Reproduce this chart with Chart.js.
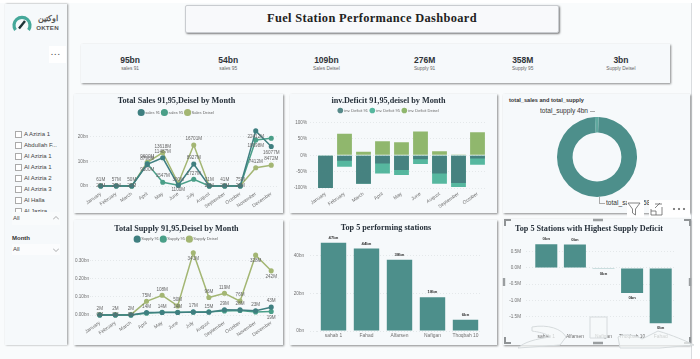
<!DOCTYPE html>
<html lang="en">
<head>
<meta charset="UTF-8">
<title>Fuel Station Performance Dashboard</title>
<script src="https://cdn.jsdelivr.net/npm/chart.js"></script>
<style>
    html, body { margin: 0; padding: 0; background: #fff; }
    body { width: 700px; height: 359px; overflow: hidden; position: relative; font-family: "Liberation Sans", Arial, sans-serif; color: #333; }
    .abs { position: absolute; }
    #page { left: 0; top: 3px; width: 691px; height: 356px; background: #f9fbfc; border-right: 1px solid #d9dcdf; }
    .panel { position: absolute; background: #f6f9fb; box-shadow: 1px 1px 2px rgba(0,0,0,.45); }
    .panel canvas { display: block; }
    #sidebar { left: 5px; top: 4px; width: 62px; height: 341px; background: #f6f9fb; box-shadow: 1px 0 2px rgba(0,0,0,.4); }
    #title { left: 185px; top: 5px; width: 372px; height: 26px; line-height: 25px; text-align: center; border-radius: 2px;
        background: #f8f9fb; border: 1px solid #c9ccd0; box-shadow: 1px 1px 2px rgba(0,0,0,.5);
        font: bold 12.4px/25px "Liberation Serif", serif; letter-spacing: .35px; color: #222; box-sizing: content-box; }
    #kpis { left: 81px; top: 44px; width: 589px; height: 39px; background: #f6f9fb; box-shadow: 1px 1px 2px rgba(0,0,0,.45); display: flex; }
    .kpi { flex: 1; text-align: center; padding-top: 11px; }
    .kpi b { display: block; font-size: 8.5px; line-height: 10px; color: #2e3338; }
    .kpi span { display: block; font-size: 4.8px; line-height: 7px; color: #666; }
    .slicer { left: 24px; font-size: 6px; line-height: 8px; color: #444; white-space: nowrap; }
    .box { left: 15px; width: 5px; height: 5px; border: 1px solid #aaa; background: #fff; }
    .small { font-size: 6.6px; line-height: 9px; color: #333; white-space: nowrap; opacity: .98; }
    .tool { background: #fff; }
</style>
</head>
<body>
<div id="page" class="abs"></div>
<div id="sidebar" class="abs"></div>

<!-- logo -->
<svg class="abs" style="left:12px;top:15px" width="20" height="18" viewBox="0 0 20 18">
    <path d="M3.5 15 A8 8 0 1 1 16.5 15" fill="none" stroke="#45a89a" stroke-width="3.2"/>
    <path d="M7 13.5 L13 6" stroke="#1d3438" stroke-width="2.4"/>
</svg>
<div class="abs" style="left:32px;top:13px;width:31px;text-align:center;font:bold 8px/10px 'Noto Sans',sans-serif;color:#555" dir="rtl" lang="ar">اوكتين</div>
<div class="abs" style="left:32px;top:24px;width:31px;text-align:center;font:bold 6.2px/7px 'Liberation Sans',sans-serif;letter-spacing:.2px;color:#555">OKTEN</div>
<div class="abs" style="left:49px;top:46px;width:17px;height:17px;background:#fff"></div>
<div class="abs" style="left:51px;top:49px;font:bold 7px/8px 'Liberation Sans';letter-spacing:1.4px;color:#555">...</div>

<div id="stations"></div>
<div class="abs" style="left:12px;top:212px;width:48px;height:13px;background:#f9fbfc"></div>
<div class="abs slicer" style="left:13px;top:214px">All</div>
<svg class="abs" style="left:53px;top:216px" width="6" height="4"><path d="M0 3.5 L3 .5 L6 3.5" fill="none" stroke="#888" stroke-width=".7"/></svg>
<div class="abs slicer" style="left:12px;top:234px;font-weight:bold;color:#333">Month</div>
<div class="abs" style="left:12px;top:244px;width:48px;height:11px;background:#fbfcfd"></div>
<div class="abs slicer" style="left:13px;top:245px">All</div>
<svg class="abs" style="left:53px;top:248px" width="6" height="4"><path d="M0 .5 L3 3.5 L6 .5" fill="none" stroke="#888" stroke-width=".7"/></svg>

<div id="title" class="abs">Fuel Station Performance Dashboard</div>
<div id="kpis" class="abs"></div>

<div class="panel" style="left:74px;top:94px;width:209px;height:119px"><canvas id="salesChart" width="209" height="119"></canvas></div>
<div class="panel" style="left:290px;top:94px;width:207px;height:119px"><canvas id="invChart" width="207" height="119"></canvas></div>
<div class="panel" style="left:503px;top:94px;width:187px;height:119px">
    <div class="abs" style="left:6px;top:2px;font:bold 5.6px/8px 'Liberation Sans';color:#333">total_sales and total_supply</div>
    <canvas id="donutChart" width="80" height="80" style="position:absolute;left:54px;top:23px"></canvas>
    <div class="abs small" style="left:37px;top:12px" id="supplyLabel"></div>
    <div class="abs" style="left:87px;top:17px;width:5px;height:1px;background:#aaa"></div>
    <div class="abs" style="left:96px;top:103px;width:1px;height:6px;background:#aaa"></div>
    <div class="abs" style="left:96px;top:109px;width:6px;height:1px;background:#aaa"></div>
    <div class="abs small" style="left:103px;top:104px" id="salesLabel"></div>
</div>
<div class="panel" style="left:74px;top:220px;width:209px;height:125px"><canvas id="supplyChart" width="209" height="125"></canvas></div>
<div class="panel" style="left:290px;top:220px;width:207px;height:125px"><canvas id="topChart" width="207" height="125"></canvas></div>
<div class="panel" style="left:503px;top:219px;width:187px;height:126px"><canvas id="deficitChart" width="187" height="126"></canvas></div>

<!-- visual header of the donut panel -->
<div class="abs tool" style="left:627px;top:200px;width:17px;height:17px"></div>
<div class="abs tool" style="left:649px;top:200px;width:41px;height:17px"></div>
<svg class="abs" style="left:627px;top:202px" width="64" height="15" viewBox="0 0 64 15" fill="none" stroke="#666" stroke-width=".8">
    <path d="M1 1 H13 L8.5 7 V13 L5.5 11 V7 Z"/>
    <path d="M24 7 V13 H35 V5 M28 2 H35 M33 1 L28 6 M24 9 H29 V13"/>
    <circle cx="47" cy="7" r=".7" fill="#555"/><circle cx="52" cy="7" r=".7" fill="#555"/><circle cx="57" cy="7" r=".7" fill="#555"/>
</svg>

<!-- selection frame and the watermark over the last panel -->
<svg class="abs" style="left:500px;top:215px" width="200" height="144" viewBox="0 0 200 144" fill="none">
    <path d="M5 11 V5 H11 M184 5 H190 V11 M5 122 V128 H11 M184 128 H190 V122" stroke="#8f9395" stroke-width="2"/>
    <path d="M93 5 H103 M93 128 H103 M4 63 V71 M190 63 V71" stroke="#9a9ea0" stroke-width="2.4"/>
    <g stroke="#d5dadc" stroke-width="1" fill="#f7f9fa" fill-opacity=".7">
        <path d="M90 102 H107 V123 H90 Z"/>
        <path d="M32 112 C48 109 62 114 66 122 L60 130 L18 133 C24 127 36 124 50 122 C46 118 38 117 32 116 Z"/>
        <path d="M118 122 C124 118 136 120 142 124 L158 116 C172 120 186 126 194 130 L160 133 L120 133 Z"/>
    </g>
</svg>

<script>
    const months = ["January", "February", "March", "April", "May", "June", "July", "August", "September", "October", "November", "December"];
    const sales91 = [20, 20, 20, 8790, 11487, 300, 8927, 20, 26, 26, 22412, 16077];
    const sales95 = [25, 25, 25, 9100, 1547, 330, 2727, 20, 26, 26, 18698, 19400];
    const salesDiesel = [61, 57, 50, 9600, 13618, 1100, 16701, 31, 41, 75, 7412, 8472];
    const salesTicks = [0, 10000, 20000];

    const supply91 = [0.4, 0.4, 0.4, 14, 14, 14, 17, 15, 29, 28, 23, 43];
    const supply95 = [0.4, 0.4, 0.4, 10, 15, 15, 15, 18, 22, 25, 17, 19];
    const supplyDiesel = [2, 2, 2, 75, 108, 50, 341, 96, 119, 76, 328, 242];
    const supplyTicks = [0, 100, 200, 300];

    const invMonths = ["January", "February", "March", "April", "May", "June", "August", "September", "October"];
    const inv91 = [-100, -17, -87, -25, -45, -12, -56, -85, -10];
    const inv95 = [-100, -35, -87, -56, -60, -27, -87, -97, -29];
    const invDiesel = [0, 66, 11, 43, 40, 73, 12, 2, 70];
    const invTicks = [-100, -50, 0, 50, 100];

    const topStations = ["sahab 1", "Fahad", "Alfarsen", "Nafigan", "Thoqbah 10"];
    const topValues = [47, 44, 38, 18, 6];
    const topTicks = [0, 20, 40];

    const deficitStations = ["sahab 1", "Alfarsen", "Nafigan", "Thoqbah 10", "Fahad"];
    const deficitValues = [0.73, 0.72, -0.03, -0.77, -1.7];
    const deficitTicks = [-1.5, -1, -0.5, 0, 0.5];

    const totalNames = ["total_supply", "total_sales"];
    const totalValues = [4, 258];

    const kpiValues = ["95bn", "54bn", "109bn", "276M", "358M", "3bn"];
    const kpiNames = ["sales 91", "sales 95", "Sales Deisel", "Supply 91", "Supply 95", "Supply Deisel"];
    const stationNames = ["A Azizia 1", "Abdullah F...", "Al Azizia 1", "Al Azizia 1", "Al Azizia 2", "Al Azizia 3", "Al Halla", "Al Jazira"];

    const teal = "#4d8f8b", green = "#4a9f88", olive = "#a3b673";
    const tickColor = "#707070", gridColor = "#e4e8ea";

    document.getElementById("kpis").innerHTML = kpiValues.map((v, i) =>
        `<div class="kpi"><b>${v}</b><span>${kpiNames[i]}</span></div>`).join("");
    document.getElementById("stations").innerHTML = stationNames.map((s, i) => {
        const y = 134 + i * 11;
        return `<div class="abs box" style="top:${y - 3}px"></div><div class="abs slicer" style="top:${y - 4}px">${s}</div>`;
    }).join("");
    document.getElementById("supplyLabel").textContent = `${totalNames[0]} ${totalValues[0]}bn`;
    document.getElementById("salesLabel").textContent = `${totalNames[1]} ${totalValues[1]}bn`;

    // label settings per chart, outside chart options because Chart.js would call the format functions as scriptable
    const lineLabelFont = "4.6px 'Liberation Sans'";
    const labelSetup = {
        salesChart: { font: lineLabelFont, color: "#666", gap: 6, format: v => Math.round(v) + "M",
            rules: [{ at: [0, 1, 2, 7, 8, 9], below: [10, 11] },
                { below: [3, 10], hide: [0, 1, 2, 5, 7, 8, 9, 11] },
                { below: [5] }] },
        supplyChart: { font: lineLabelFont, color: "#666", gap: 6, format: v => Math.round(v) + "M",
            rules: [{ at: [0, 1, 2] },
                { below: [11], hide: [0, 1, 2, 3, 4, 5, 6, 7, 8, 9, 10] },
                { below: [6, 10, 11] }] },
        topChart: { font: "bold 4.2px 'Liberation Sans'", color: "#333", gap: 5, format: v => v + "bn" },
        deficitChart: { font: "bold 4.2px 'Liberation Sans'", color: "#333", gap: 5, outside: true, format: v => "0bn" }
    };

    // no datalabels plugin here, so draw the value labels through the chart's own elements
    const valueLabels = {
        id: "valueLabels",
        afterDatasetsDraw(chart) {
            const o = labelSetup[chart.canvas.id];
            if (!o) return;
            const ctx = chart.ctx;
            ctx.save();
            ctx.font = o.font;
            ctx.fillStyle = o.color;
            ctx.textAlign = "center";
            ctx.textBaseline = "middle";
            chart.data.datasets.forEach((ds, d) => {
                const rule = (o.rules && o.rules[d]) || {};
                chart.getDatasetMeta(d).data.forEach((el, i) => {
                    if (rule.hide && rule.hide.includes(i)) return;
                    let below = rule.below && rule.below.includes(i);
                    if (o.outside) below = ds.data[i] < 0;
                    let dy = below ? o.gap : -o.gap;
                    if (rule.at && rule.at.includes(i)) dy = 0;
                    ctx.fillText(o.format(ds.data[i]), el.x, el.y + dy);
                });
            });
            ctx.restore();
        }
    };
    Chart.register(valueLabels);

    function titleOpts(text, size, pad) {
        return { display: true, text: text, color: "#26303a", font: { family: "'Liberation Serif', serif", size: size, weight: "bold" }, padding: pad };
    }
    function legendOpts() {
        return { display: true, position: "top", labels: { font: { size: 4 }, color: "#666", boxWidth: 4, boxHeight: 4, padding: 2.3, usePointStyle: true, pointStyle: "circle" } };
    }
    function yAxis(width, ticks, fmt, min, max, tickLen, pad) {
        return {
            min: min, max: max,
            afterFit(s) { s.width = width; },
            afterBuildTicks(s) { s.ticks = ticks.map(v => ({ value: v })); },
            border: { display: false, dash: [1, 2] },
            grid: { color: gridColor, lineWidth: 1, drawTicks: true, tickLength: tickLen, tickColor: gridColor, tickBorderDash: [1, 2] },
            ticks: { color: tickColor, font: { size: 4.6 }, padding: pad, callback: fmt }
        };
    }
    function xAxis(height, rotation, pad) {
        return {
            offset: true,
            afterFit(s) { s.height = height; },
            border: { display: false },
            grid: { display: false, drawTicks: false },
            ticks: { color: tickColor, font: { size: 4.9 }, padding: pad, autoSkip: false, maxRotation: rotation, minRotation: rotation }
        };
    }
    function lineSet(label, data, color) {
        return { label: label, data: data, borderColor: color, backgroundColor: color, borderWidth: 1.5, pointRadius: 1.8, pointHoverRadius: 2, tension: 0, clip: false };
    }
    const baseOpts = { responsive: false, animation: false, events: [] };

    new Chart(document.getElementById("salesChart"), {
        type: "line",
        data: { labels: months, datasets: [
            lineSet("sales 91", sales91, "#3f7f80"),
            lineSet("sales 95", sales95, green),
            lineSet("Sales Deisel", salesDiesel, olive)
        ] },
        options: { ...baseOpts,
            layout: { padding: { right: 4 } },
            plugins: {
                title: titleOpts("Total Sales 91,95,Deisel by Month", 8.2, { top: 2, bottom: 2.4 }),
                legend: legendOpts()
            },
            scales: {
                x: xAxis(27, 35, 5),
                y: yAxis(19, salesTicks, v => (v / 1000) + "bn", 0, 25000, 3, 2)
            }
        }
    });

    new Chart(document.getElementById("invChart"), {
        type: "bar",
        data: { labels: invMonths, datasets: [
            { label: "inv. Deficit 91", data: inv91, backgroundColor: "rgba(70,125,125,.9)", order: 1 },
            { label: "inv. Deficit 95", data: inv95, backgroundColor: "rgba(58,172,142,.85)", order: 2 },
            { label: "inv. Deficit Deisel", data: invDiesel, backgroundColor: "rgba(138,179,101,.95)", order: 3 }
        ] },
        options: { ...baseOpts,
            layout: { padding: { right: 10 } },
            datasets: { bar: { categoryPercentage: 1, barPercentage: 0.78 } },
            plugins: {
                title: titleOpts("inv.Deficit 91,95,deisel by Month", 8.2, { top: 2, bottom: 0.4 }),
                legend: legendOpts()
            },
            scales: {
                x: { ...xAxis(25, 35, 3), stacked: true },
                y: yAxis(26, invTicks, v => v + "%", -100, 100, 6, 3)
            }
        }
    });

    new Chart(document.getElementById("donutChart"), {
        type: "doughnut",
        data: { labels: totalNames, datasets: [{ data: totalValues, backgroundColor: ["#5fa99f", teal], borderWidth: 0 }] },
        options: { ...baseOpts, cutout: "61%", rotation: -3, layout: { padding: 0 }, plugins: { legend: { display: false }, title: { display: false } } }
    });

    new Chart(document.getElementById("supplyChart"), {
        type: "line",
        data: { labels: months, datasets: [
            lineSet("Supply 91", supply91, "#3f7f80"),
            lineSet("Supply 95", supply95, green),
            lineSet("Supply Deisel", supplyDiesel, olive)
        ] },
        options: { ...baseOpts,
            layout: { padding: { right: 4 } },
            plugins: {
                title: titleOpts("Total Supply 91,95,Deisel by Month", 8.2, { top: 4, bottom: 1 }),
                legend: legendOpts()
            },
            scales: {
                x: xAxis(30, 35, 5),
                y: yAxis(18, supplyTicks, v => (v / 1000).toFixed(2) + "bn", 0, 350, 2, 1)
            }
        }
    });

    new Chart(document.getElementById("topChart"), {
        type: "bar",
        data: { labels: topStations, datasets: [{ data: topValues, backgroundColor: teal, categoryPercentage: 1, barPercentage: 0.77 }] },
        options: { ...baseOpts,
            layout: { padding: { right: 15 } },
            plugins: {
                title: titleOpts("Top 5 performing stations", 8.2, { top: 3, bottom: 4.4 }),
                legend: { display: false }
            },
            scales: {
                x: xAxis(14, 0, 2),
                y: yAxis(27, topTicks, v => v + "bn", 0, 50, 7, 6)
            }
        }
    });

    new Chart(document.getElementById("deficitChart"), {
        type: "bar",
        data: { labels: deficitStations, datasets: [{ data: deficitValues, backgroundColor: teal, categoryPercentage: 1, barPercentage: 0.77 }] },
        options: { ...baseOpts,
            layout: { padding: { right: 15 } },
            plugins: {
                title: titleOpts("Top 5 Stations with Highest Supply Deficit", 8.2, { top: 5, bottom: 1.5 }),
                legend: { display: false }
            },
            scales: {
                x: xAxis(12, 0, 1),
                y: yAxis(29, deficitTicks, v => v.toFixed(1) + "M", -2, 1, 6, 5)
            }
        }
    });
</script>
</body>
</html>
